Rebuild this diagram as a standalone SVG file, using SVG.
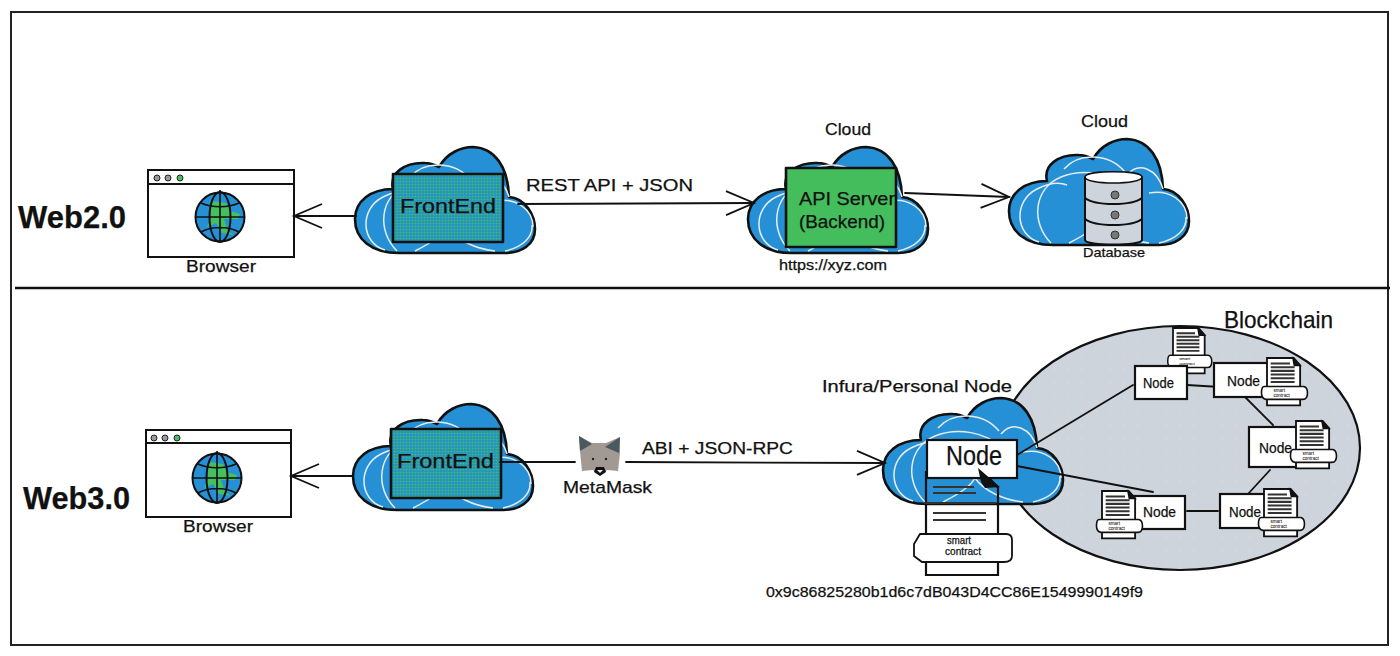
<svg xmlns="http://www.w3.org/2000/svg" xmlns:xlink="http://www.w3.org/1999/xlink" width="1400" height="656" viewBox="0 0 1400 656">
<style>
text{font-family:"Liberation Sans",Arial,sans-serif;fill:#111;stroke:#111;stroke-width:.25}
.b{font-weight:700}
.ln{fill:none;stroke:#111;stroke-width:1.8;stroke-linecap:round}
.arr{marker-end:url(#head)}
.box{stroke:#111;stroke-width:2.6;stroke-linejoin:round}
.cl{fill:#2590d6;stroke:#111;stroke-width:2.6;stroke-linejoin:round}
.wh{fill:none;stroke:#e6ecf0;stroke-width:1.5}
.win{fill:#fff;stroke:#111;stroke-width:2}
.nd{fill:#fff;stroke:#111;stroke-width:2.2}
.sm{font-size:10px;stroke-width:.1}
</style>
<defs>
<pattern id="dots" width="3" height="3" patternUnits="userSpaceOnUse"><rect width="3" height="3" fill="#2594c0"/><circle cx="1.5" cy="1.5" r="0.85" fill="#46c05e"/></pattern>
<pattern id="speck" width="14" height="14" patternUnits="userSpaceOnUse"><rect width="14" height="14" fill="#ced4dc"/><circle cx="4" cy="5" r="0.6" fill="#e4e8ec"/></pattern>
<marker id="head" markerUnits="userSpaceOnUse" markerWidth="34" markerHeight="30" refX="31" refY="15" orient="auto"><path d="M3,3 L31,15 L3,27" fill="none" stroke="#111" stroke-width="1.8"/></marker>
<g id="cloud">
<path class="cl" d="M44,106 C16,106 0,92 0,72 C0,54 16,42 38,42 C34,26 50,15 70,16 C75,16 80,18 84,20 C92,6 106,0 118,0 C140,1 153,20 154,50 C170,51 180,68 180,82 C180,98 166,106 150,106 Z"/>
<path class="wh" d="M30,103 C6,96 4,62 28,50 C40,44 50,43 58,46"/>
<path class="wh" d="M42,104 C22,84 24,50 52,38 C74,29 104,34 118,50"/>
<path class="wh" d="M55,30 C70,13 100,14 116,33"/>
<path class="wh" d="M118,36 C130,22 148,30 154,50"/>
<path class="wh" d="M178,80 C178,62 160,50 140,54"/>
<path class="wh" d="M150,104 C168,100 178,90 177,78"/>
<path class="wh" d="M60,104 C76,96 88,88 92,80 C100,92 120,102 140,104"/>
</g>
<g id="globe">
<circle r="24.5" fill="#2590d6" stroke="#111" stroke-width="2"/>
<path d="M-8,-16 L6,-14 L10,-6 L20,-3 L18,2 L4,2 L8,14 L14,18 L2,16 L-4,6 L-13,10 L-9,1 L-9,-8 Z" fill="#46c05e"/>
<ellipse rx="10.5" ry="25" fill="none" stroke="#111" stroke-width="2"/>
<path d="M-24,0 H24 M-19,-14 C-8,-9 8,-9 19,-14 M-19,15 C-8,9 8,9 19,15 M0,-27 V25" fill="none" stroke="#111" stroke-width="1.6"/>
</g>
<g id="doc">
<path d="M0,0 H58 L72,16 V103 H0 Z" fill="none" stroke="#111" stroke-width="2.2"/>
<path d="M7,15 H48 M7,21 H50 M-2,31 H70 M7,41 H60 M7,48 H60" fill="none" stroke="#333" stroke-width="2.2"/>
<path d="M-6,62 H80 Q86,62 86,68 V84 Q86,90 78,90 H-4 L-12,84 V72 Z" fill="#fff" stroke="#111" stroke-width="1.8"/>
</g>
<g id="doc-small">
<path d="M0,0 H58 L72,16 V103 H0 Z" fill="#fff" stroke="#111" stroke-width="4"/>
<path d="M54,-4 L76,18 L58,18 Z" fill="#111"/>
<path d="M8,12 H50 M8,20 H60 M8,28 H60 M8,36 H60 M8,44 H60 M8,52 H60" fill="none" stroke="#333" stroke-width="4.5"/>
<path d="M-6,62 H80 Q88,64 88,76 Q88,90 78,90 H-2 Q-12,88 -12,76 Q-12,62 -6,62 Z" fill="#fff" stroke="#111" stroke-width="3.5"/>
</g>
</defs>
<rect width="1400" height="656" fill="#fff"/>
<rect id="frame" x="11" y="12" width="1377" height="633" fill="none" stroke="#222" stroke-width="2"/>
<path id="divider" d="M15,288 H1390" stroke="#111" stroke-width="2.4" fill="none"/>
<g id="web2-label"><text class="b" x="18" y="228" font-size="32" textLength="108" lengthAdjust="spacingAndGlyphs">Web2.0</text></g>
<g id="web3-label"><text class="b" x="23" y="509" font-size="32" textLength="107" lengthAdjust="spacingAndGlyphs">Web3.0</text></g>

<g id="browser-top">
<rect class="win" x="148" y="170" width="146" height="87"/>
<path class="ln" d="M148,184 H294"/>
<circle cx="157" cy="178" r="3" fill="#999" stroke="#222"/><circle cx="168" cy="178" r="3" fill="#999" stroke="#222"/><circle cx="180" cy="178" r="3" fill="#46c05e" stroke="#222"/>
<use href="#globe" x="220" y="217"/>
<text x="186" y="272" font-size="17" textLength="70" lengthAdjust="spacingAndGlyphs">Browser</text>
</g>
<g id="frontend-top">
<use href="#cloud" x="355" y="147"/>
<rect class="box" x="393" y="174" width="110" height="68" fill="url(#dots)"/>
<text x="400" y="213" font-size="21" textLength="96" lengthAdjust="spacingAndGlyphs">FrontEnd</text>
</g>
<g id="api-server">
<use href="#cloud" x="748" y="147"/>
<rect class="box" x="786" y="168" width="110" height="79" fill="#44bd5d"/>
<text x="799" y="205" font-size="18" textLength="96" lengthAdjust="spacingAndGlyphs">API Server</text>
<text x="799" y="228" font-size="18" textLength="86" lengthAdjust="spacingAndGlyphs">(Backend)</text>
<text x="825" y="135" font-size="17" textLength="46" lengthAdjust="spacingAndGlyphs">Cloud</text>
<text x="779" y="270" font-size="14" textLength="108" lengthAdjust="spacingAndGlyphs">https://xyz.com</text>
</g>
<g id="database">
<use href="#cloud" x="1009" y="139"/>
<path d="M1085,178 C1085,170 1142,170 1142,178 V240 C1142,246 1085,246 1085,240 Z" fill="#ced4dc" stroke="#111" stroke-width="2"/>
<path d="M1085,198 C1095,206 1132,206 1142,198 M1085,219 C1095,227 1132,227 1142,219" fill="none" stroke="#111" stroke-width="2"/>
<path d="M1085,177 C1085,170 1142,170 1142,177 C1142,185 1085,185 1085,177 Z" fill="#fff" stroke="#111" stroke-width="1.6"/>
<circle cx="1115" cy="195" r="4" fill="#777" stroke="#333"/><circle cx="1115" cy="215" r="4" fill="#777" stroke="#333"/><circle cx="1115" cy="235" r="4" fill="#777" stroke="#333"/>
<text x="1081" y="127" font-size="17" textLength="47" lengthAdjust="spacingAndGlyphs">Cloud</text>
<text x="1083" y="257" font-size="13" textLength="62" lengthAdjust="spacingAndGlyphs">Database</text>
</g>

<g id="browser-bottom">
<rect class="win" x="146" y="430" width="145" height="87"/>
<path class="ln" d="M146,443 H291"/>
<circle cx="154" cy="438" r="3" fill="#999" stroke="#222"/><circle cx="165" cy="438" r="3" fill="#999" stroke="#222"/><circle cx="177" cy="438" r="3" fill="#46c05e" stroke="#222"/>
<use href="#globe" x="217" y="478"/>
<text x="183" y="532" font-size="17" textLength="70" lengthAdjust="spacingAndGlyphs">Browser</text>
</g>
<g id="frontend-bottom">
<use href="#cloud" x="353" y="404"/>
<rect class="box" x="391" y="429" width="110" height="69" fill="url(#dots)"/>
<text x="397" y="468" font-size="21" textLength="97" lengthAdjust="spacingAndGlyphs">FrontEnd</text>
</g>
<g id="metamask">
<path d="M579,436 L592,443 H606 L620,437 L620,453 L618,471 L607,470 L600,476 L593,470 L582,471 L580,451 Z" fill="#a29a92"/>
<path d="M579,436 L580,451 L592,444 Z M620,437 L605,447 L619,453 Z" fill="#4a5860"/>
<path d="M596,467 H604 L606,472 L600,476 L594,472 Z" fill="#111"/>
<path d="M597,470 H603 L600,473 Z" fill="#eee"/>
<circle cx="593" cy="459" r="1.2" fill="#222"/><circle cx="606" cy="459" r="1.2" fill="#222"/>
<text x="563" y="493" font-size="17" textLength="89" lengthAdjust="spacingAndGlyphs">MetaMask</text>
</g>

<g id="blockchain">
<ellipse cx="1180" cy="448" rx="180" ry="122" fill="url(#speck)" stroke="#111" stroke-width="2.2"/>
<text x="1224" y="328" font-size="24" textLength="109" lengthAdjust="spacingAndGlyphs">Blockchain</text>
</g>
<g id="infura-node">
<use href="#cloud" x="883" y="398"/>
<use href="#doc" x="926" y="472"/>
<rect class="nd" x="927" y="440" width="90" height="38"/>
<path d="M978,468 L1000,487 L985,488 L981,482 Z" fill="#111"/>
<text x="946" y="465" font-size="27" textLength="56" lengthAdjust="spacingAndGlyphs">Node</text>
<text x="947" y="544" font-size="10" textLength="24" lengthAdjust="spacingAndGlyphs">smart</text>
<text x="945" y="555" font-size="10" textLength="36" lengthAdjust="spacingAndGlyphs">contract</text>
<text x="822" y="392" font-size="17" textLength="190" lengthAdjust="spacingAndGlyphs">Infura/Personal Node</text>
<text x="766" y="597" font-size="15" textLength="377" lengthAdjust="spacingAndGlyphs">0x9c86825280b1d6c7dB043D4CC86E1549990149f9</text>
</g>

<g id="connectors">
<path class="ln arr" d="M356,216 H294"/>
<path class="ln arr" d="M518,204 L754,203"/>
<path class="ln arr" d="M905,193 L1009,197"/>
<path class="ln arr" d="M353,476 H291"/>
<path class="ln" d="M500,462 H575"/>
<path class="ln arr" d="M626,462 L885,463"/>
<path class="ln" d="M1017,455 L1133,385"/>
<path class="ln" d="M1017,466 L1153,492"/>
<path class="ln" d="M1187,385 L1220,387"/>
<path class="ln" d="M1242,394 L1273,425"/>
<path class="ln" d="M1270,470 L1248,494"/>
<path class="ln" d="M1187,511 H1218"/>
<text x="526" y="191" font-size="16" textLength="167" lengthAdjust="spacingAndGlyphs">REST API + JSON</text>
<text x="642" y="454" font-size="16" textLength="151" lengthAdjust="spacingAndGlyphs">ABI + JSON-RPC</text>
</g>

<g id="node-1">
<g transform="translate(1173,328) scale(.44)"><use href="#doc-small"/><text class="sm" x="14" y="73">smart</text><text class="sm" x="14" y="85">contract</text></g>
<rect class="nd" x="1135" y="366" width="52" height="33"/>
<text x="1143" y="388" font-size="14" textLength="31" lengthAdjust="spacingAndGlyphs">Node</text>
</g>
<g id="node-2">
<rect class="nd" x="1214" y="363" width="56" height="34"/>
<text x="1227" y="386" font-size="14" textLength="33" lengthAdjust="spacingAndGlyphs">Node</text>
<g transform="translate(1267,358) scale(.46)"><use href="#doc-small"/><text class="sm" x="14" y="73">smart</text><text class="sm" x="14" y="85">contract</text></g>
</g>
<g id="node-3">
<rect class="nd" x="1249" y="427" width="52" height="40"/>
<text x="1259" y="453" font-size="14" textLength="33" lengthAdjust="spacingAndGlyphs">Node</text>
<g transform="translate(1296,421) scale(.46)"><use href="#doc-small"/><text class="sm" x="14" y="73">smart</text><text class="sm" x="14" y="85">contract</text></g>
</g>
<g id="node-4">
<rect class="nd" x="1220" y="494" width="50" height="34"/>
<text x="1229" y="517" font-size="14" textLength="32" lengthAdjust="spacingAndGlyphs">Node</text>
<g transform="translate(1264,489) scale(.46)"><use href="#doc-small"/><text class="sm" x="14" y="73">smart</text><text class="sm" x="14" y="85">contract</text></g>
</g>
<g id="node-5">
<rect class="nd" x="1132" y="496" width="53" height="33"/>
<text x="1143" y="517" font-size="14" textLength="33" lengthAdjust="spacingAndGlyphs">Node</text>
<g transform="translate(1102,491) scale(.46)"><use href="#doc-small"/><text class="sm" x="14" y="73">smart</text><text class="sm" x="14" y="85">contract</text></g>
</g>
</svg>
